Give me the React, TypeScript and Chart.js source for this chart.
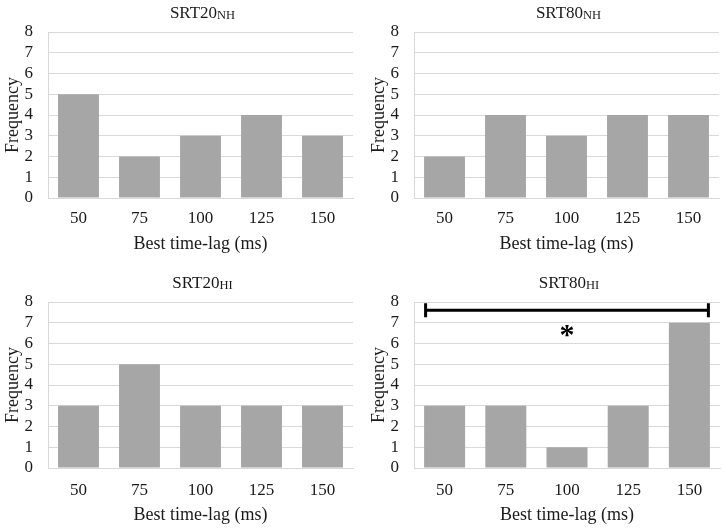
import React, { useEffect, useRef } from "react";
import { Chart, registerables } from "chart.js";

Chart.register(...registerables);

// ---- data ----
const categories = ["50", "75", "100", "125", "150"];
const srt20NH = [5, 2, 3, 4, 3];
const srt80NH = [2, 4, 3, 4, 4];
const srt20HI = [3, 5, 3, 3, 3];
const srt80HI = [3, 3, 1, 3, 7];
const titleMain = ["SRT20", "SRT80", "SRT20", "SRT80"];
const titleSub = ["NH", "NH", "HI", "HI"];
const yMin = 0;
const yMax = 8;
const yStep = 1;
const xAxisTitle = "Best time-lag (ms)";
const yAxisTitle = "Frequency";
const bracketLevel = 7.6;
const starLevel = 6.6;
const starText = "*";

const SERIF = '"Liberation Serif", "Times New Roman", serif';
const BAR = "#a6a6a6";
const GRID = "#d9d9d9";
const TEXT = "#1a1a1a";

type Panel = {
  data: number[];
  idx: number;
  x: number;
  y: number;
  left: number;
  right: number;
  top: number;
  bottom: number;
  titleBase: number;
  yTitlePad: number;
  xTickPad: number;
  xTitlePad: number;
  bracket: boolean;
};

const W = 362;
const H = 264;

const panels: Panel[] = [
  { data: srt20NH, idx: 0, x: 0, y: 0, left: 48, right: 353, top: 32, bottom: 198, titleBase: 17.5, yTitlePad: 2, xTickPad: 10, xTitlePad: 9, bracket: false },
  { data: srt80NH, idx: 1, x: 362, y: 0, left: 52, right: 357, top: 32, bottom: 198, titleBase: 17.5, yTitlePad: 6, xTickPad: 10, xTitlePad: 9, bracket: false },
  { data: srt20HI, idx: 2, x: 0, y: 264, left: 48, right: 353, top: 38, bottom: 204, titleBase: 23.5, yTitlePad: 2, xTickPad: 12, xTitlePad: 2, bracket: false },
  { data: srt80HI, idx: 3, x: 362, y: 264, left: 52, right: 358, top: 38, bottom: 204, titleBase: 23.5, yTitlePad: 6, xTickPad: 12, xTitlePad: 2, bracket: true },
];

function titlePlugin(p: Panel) {
  return {
    id: "subTitle" + p.idx,
    afterDraw(chart: any) {
      const ctx = chart.ctx as CanvasRenderingContext2D;
      const area = chart.chartArea;
      const cx = (area.left + area.right) / 2;
      ctx.save();
      ctx.fillStyle = TEXT;
      ctx.textBaseline = "alphabetic";
      ctx.textAlign = "left";
      const mainFont = `17px ${SERIF}`;
      const subFont = `12.5px ${SERIF}`;
      ctx.font = mainFont;
      const wMain = ctx.measureText(titleMain[p.idx]).width;
      ctx.font = subFont;
      const wSub = ctx.measureText(titleSub[p.idx]).width;
      const x0 = cx - (wMain + wSub) / 2 + 2;
      ctx.font = mainFont;
      ctx.fillText(titleMain[p.idx], x0, p.titleBase);
      ctx.font = subFont;
      ctx.fillText(titleSub[p.idx], x0 + wMain, p.titleBase + 1.5);
      ctx.restore();
    },
  };
}

const bracketPlugin = {
  id: "bracket",
  afterDatasetsDraw(chart: any) {
    const ctx = chart.ctx as CanvasRenderingContext2D;
    const meta = chart.getDatasetMeta(0);
    const first = meta.data[0];
    const last = meta.data[meta.data.length - 1];
    const x0 = first.x - first.width / 2;
    const x1 = last.x + last.width / 2;
    const yS = chart.scales.y;
    const y = yS.getPixelForValue(bracketLevel);
    ctx.save();
    ctx.strokeStyle = "#000";
    ctx.lineWidth = 3;
    ctx.lineCap = "butt";
    ctx.beginPath();
    ctx.moveTo(x0, y);
    ctx.lineTo(x1, y);
    ctx.moveTo(x0 + 1.5, y - 7);
    ctx.lineTo(x0 + 1.5, y + 7);
    ctx.moveTo(x1 - 1.5, y - 7);
    ctx.lineTo(x1 - 1.5, y + 7);
    ctx.stroke();
    // star
    const area = chart.chartArea;
    const cx = (area.left + area.right) / 2;
    const cy = yS.getPixelForValue(starLevel);
    ctx.font = `bold 30px ${SERIF}`;
    ctx.fillStyle = "#000";
    ctx.textAlign = "center";
    ctx.textBaseline = "alphabetic";
    const m = ctx.measureText(starText);
    const asc = m.actualBoundingBoxAscent;
    const desc = m.actualBoundingBoxDescent;
    ctx.fillText(starText, cx, cy + (asc - desc) / 2);
    ctx.restore();
  },
};

function PanelChart({ p }: { p: Panel }) {
  const ref = useRef<HTMLCanvasElement | null>(null);
  useEffect(() => {
    if (!ref.current) return;
    const plugins: any[] = [titlePlugin(p)];
    if (p.bracket) plugins.push(bracketPlugin);
    const chart = new Chart(ref.current, {
      type: "bar",
      data: {
        labels: categories,
        datasets: [
          {
            data: p.data,
            backgroundColor: BAR,
            borderWidth: 0,
            barPercentage: 0.67,
            categoryPercentage: 1,
          },
        ],
      },
      options: {
        animation: false,
        responsive: false,
        devicePixelRatio: 1,
        layout: { padding: { left: 0, top: p.top, right: W - p.right, bottom: 0 } },
        plugins: { legend: { display: false }, tooltip: { enabled: false }, title: { display: false } },
        scales: {
          x: {
            grid: { display: false, drawTicks: false },
            border: { display: true, color: GRID, width: 1 },
            ticks: { color: TEXT, font: { family: SERIF, size: 17, lineHeight: 1.2 }, padding: p.xTickPad, maxRotation: 0, autoSkip: false },
            title: {
              display: true,
              text: xAxisTitle,
              color: TEXT,
              font: { family: SERIF, size: 18, lineHeight: 1.2 },
              padding: { top: 0, bottom: p.xTitlePad },
            },
            afterFit: (s: any) => {
              s.height = H - p.bottom;
            },
          },
          y: {
            min: yMin,
            max: yMax,
            grid: { color: GRID, lineWidth: 1, drawTicks: false },
            border: { display: true, color: GRID, width: 1 },
            ticks: { stepSize: yStep, autoSkip: false, color: TEXT, font: { family: SERIF, size: 17, lineHeight: 1 }, padding: 15 },
            title: {
              display: true,
              text: yAxisTitle,
              color: TEXT,
              font: { family: SERIF, size: 18, lineHeight: 1.2 },
              padding: { top: p.yTitlePad, bottom: 0 },
            },
            afterFit: (s: any) => {
              s.width = p.left;
            },
          },
        },
      },
      plugins,
    });
    return () => chart.destroy();
  }, [p]);
  return (
    <div style={{ position: "absolute", left: p.x, top: p.y, width: W, height: H }}>
      <canvas ref={ref} width={W} height={H} style={{ width: W, height: H, display: "block" }} />
    </div>
  );
}

export default function App() {
  return (
    <div style={{ position: "absolute", left: 0, top: 0, width: 724, height: 528, background: "#fff" }}>
      {panels.map((p) => (
        <PanelChart key={p.idx} p={p} />
      ))}
    </div>
  );
}
